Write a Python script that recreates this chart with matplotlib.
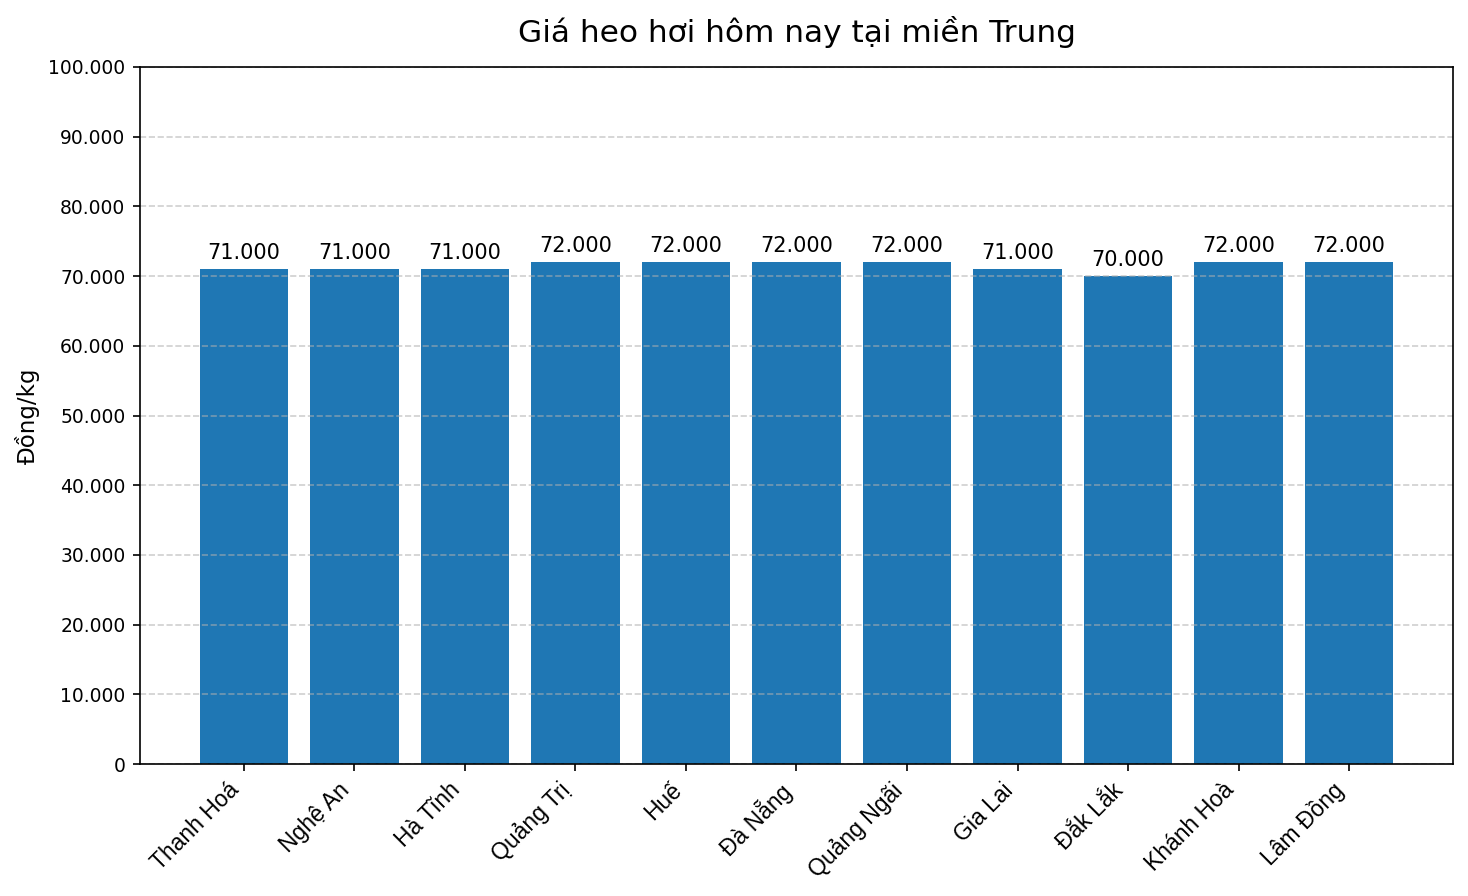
import matplotlib.pyplot as plt
from matplotlib.ticker import FuncFormatter

# --- DỮ LIỆU ---
tinh = ["Thanh Hoá", "Nghệ An", "Hà Tĩnh", "Quảng Trị", "Huế", "Đà Nẵng",
        "Quảng Ngãi", "Gia Lai", "Đắk Lắk", "Khánh Hoà", "Lâm Đồng"]
gia = [71000, 71000, 71000, 72000, 72000, 72000, 72000, 71000, 70000, 72000, 72000]


def dinh_dang(v, pos=None):
    # 71000 -> "71.000"
    return f"{int(v):,}".replace(",", ".")


fig, ax = plt.subplots(figsize=(1468 / 150, 896 / 150), dpi=150)
fig.subplots_adjust(left=140 / 1468, right=1453 / 1468, top=1 - 67 / 896, bottom=1 - 764 / 896)

bars = ax.bar(tinh, gia, color="#1f77b4", width=0.8)
ax.bar_label(bars, labels=[dinh_dang(v) for v in gia], padding=3, fontsize=10)

ax.set_ylim(0, 100000)
ax.set_yticks(range(0, 100001, 10000))
ax.yaxis.set_major_formatter(FuncFormatter(dinh_dang))
ax.tick_params(axis="y", labelsize=9)

ax.set_xticks(range(len(tinh)))
ax.set_xticklabels(tinh, rotation=45, ha="right", fontsize=11, family="Liberation Sans")

ax.set_title("Giá heo hơi hôm nay tại miền Trung", fontsize=15, pad=12)
ax.set_ylabel("Đồng/kg", fontsize=11)
ax.grid(axis="y", linestyle="--", alpha=0.6)

plt.savefig("out.png", dpi=150)
